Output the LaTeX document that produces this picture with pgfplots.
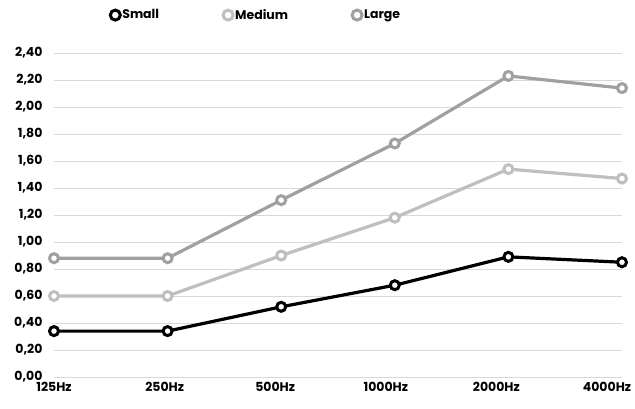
\documentclass[border=0pt]{standalone}
\usepackage{fontspec}
\setmainfont{Poppins}
\usepackage{pgfplots}
\pgfplotsset{compat=1.18}
\definecolor{cSmall}{RGB}{0,0,0}
\definecolor{cMedium}{RGB}{191,191,191}
\definecolor{cLarge}{RGB}{160,160,160}
\definecolor{cGrid}{RGB}{217,217,217}
\begin{document}
\begin{tikzpicture}
\path[use as bounding box] (-54pt,-31pt) rectangle (581pt,377pt);
\begin{axis}[
    at={(0,0)}, anchor=south west,
    scale only axis,
    width=568pt, height=324pt,
    xmin=0, xmax=5, ymin=0, ymax=2.4,
    axis line style={draw=none},
    xtick={0,0.974,1.947,2.921,3.894,4.868},
    xticklabels={125Hz,250Hz,500Hz,1000Hz,2000Hz,4000Hz},
    ytick={0,0.2,...,2.41},
    major tick length=0pt,
    ymajorgrids,
    grid style={cGrid, line width=1pt},
    tick label style={font=\fontsize{12.5}{14}\selectfont\bfseries},
    /pgf/number format/.cd, use comma, fixed, fixed zerofill, precision=2, assume math mode=true,
    /pgfplots/.cd,
    yticklabel style={xshift=-8pt},
    xticklabel style={yshift=-2pt},
    clip=false,
    legend columns=3,
    legend style={draw=none, at={(0.356,1.117)}, anchor=center,
        font=\fontsize{12.5}{14}\selectfont\bfseries,
        /tikz/every even column/.append style={column sep=62pt}},
    legend image code/.code={\draw[mark repeat=2,mark phase=2,mark size=5pt] plot coordinates {(0cm,0cm) (0.06cm,0cm) (0.12cm,0cm)};},
    every axis plot/.append style={line width=3.2pt, mark=*, mark size=4.5pt,
        mark options={fill=white, line width=3pt}},
]
\addplot[cSmall] coordinates {(0,0.34) (1,0.34) (2,0.52) (3,0.68) (4,0.89) (5,0.85)};
\addplot[cMedium] coordinates {(0,0.60) (1,0.60) (2,0.90) (3,1.18) (4,1.54) (5,1.47)};
\addplot[cLarge] coordinates {(0,0.88) (1,0.88) (2,1.31) (3,1.73) (4,2.23) (5,2.14)};
\legend{Small,Medium,Large}
\end{axis}
\end{tikzpicture}
\end{document}
